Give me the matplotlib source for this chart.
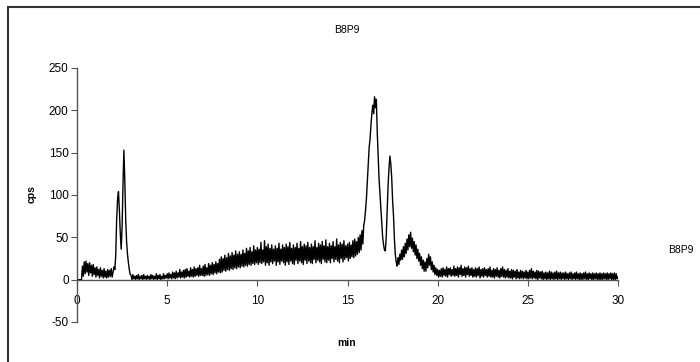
import numpy as np
import matplotlib
matplotlib.use("Agg")
import matplotlib.pyplot as plt
from matplotlib.patches import Rectangle

plt.rcParams['font.family'] = ['Liberation Sans', 'DejaVu Sans']
plt.rcParams['axes.unicode_minus'] = False

title = "B8P9"
series_name = "B8P9"
x_label = "min"
y_label = "cps"
x_ticks = [0, 5, 10, 15, 20, 25, 30]
y_ticks = [-50, 0, 50, 100, 150, 200, 250]

# signal, one row per minute (0.05 min steps)
cps_rows = [
    [0, 0, 0, 0, 0, 0, 16, 4, 21, 7, 22, 9, 19, 5, 20, 8, 17, 4, 18, 6],
    [14, 3, 15, 5, 12, 2, 14, 4, 11, 2, 13, 3, 10, 2, 12, 3, 11, 4, 13, 3],
    [9, 15, 12, 30, 72, 95, 104, 82, 55, 36, 62, 112, 153, 118, 72, 45, 30, 20, 12, 6],
    [5, 0, 6, 1, 4, 0, 5, 1, 6, 0, 4, 1, 5, 0, 6, 1, 4, 0, 5, 1],
    [4, 0, 6, 1, 5, 0, 4, 1, 7, 0, 5, 1, 6, 0, 4, 1, 7, 1, 5, 2],
    [7, 1, 8, 2, 6, 1, 9, 2, 8, 1, 10, 2, 8, 3, 12, 2, 9, 3, 11, 2],
    [12, 3, 13, 4, 10, 3, 14, 4, 12, 3, 15, 4, 13, 5, 14, 4, 17, 5, 13, 5],
    [16, 4, 18, 5, 14, 6, 19, 5, 17, 7, 20, 6, 18, 8, 21, 7, 19, 9, 24, 8],
    [27, 9, 25, 11, 29, 10, 26, 12, 31, 11, 28, 13, 32, 12, 29, 14, 34, 13, 30, 15],
    [33, 14, 30, 16, 35, 15, 31, 17, 37, 16, 34, 18, 38, 17, 33, 19, 40, 18, 35, 20],
    [38, 18, 36, 20, 44, 19, 35, 21, 46, 17, 39, 20, 42, 17, 37, 21, 41, 19, 36, 22],
    [40, 17, 37, 21, 43, 18, 36, 22, 41, 20, 38, 17, 42, 21, 39, 18, 44, 22, 37, 19],
    [41, 18, 38, 23, 43, 19, 37, 22, 45, 20, 39, 18, 42, 23, 40, 19, 44, 22, 38, 20],
    [42, 19, 39, 24, 46, 20, 38, 23, 43, 21, 41, 19, 45, 24, 40, 21, 47, 20, 39, 23],
    [43, 20, 40, 25, 45, 21, 39, 24, 48, 22, 41, 20, 44, 25, 42, 21, 46, 24, 40, 26],
    [42, 22, 44, 25, 41, 27, 46, 26, 48, 28, 45, 30, 50, 32, 53, 35, 58, 42, 64, 70],
    [82, 96, 117, 136, 156, 166, 182, 196, 206, 196, 216, 203, 213, 174, 146, 119, 101, 84, 67, 50],
    [41, 35, 34, 52, 81, 111, 131, 146, 137, 121, 94, 76, 49, 30, 21, 16, 26, 18, 30, 23],
    [35, 24, 39, 27, 43, 31, 48, 35, 53, 39, 56, 37, 49, 33, 45, 29, 41, 25, 36, 22],
    [31, 17, 27, 13, 23, 10, 21, 10, 25, 14, 30, 17, 27, 12, 21, 9, 17, 6, 14, 5],
    [12, 3, 11, 4, 13, 3, 14, 5, 12, 4, 15, 3, 13, 6, 14, 4, 12, 5, 16, 4],
    [13, 5, 15, 3, 14, 6, 17, 4, 13, 5, 15, 3, 14, 6, 16, 4, 13, 5, 14, 3],
    [12, 4, 14, 3, 13, 5, 15, 2, 12, 4, 13, 3, 14, 5, 12, 3, 13, 4, 15, 3],
    [11, 3, 13, 2, 12, 4, 14, 3, 11, 2, 13, 4, 15, 3, 12, 2, 11, 3, 13, 2],
    [10, 2, 12, 1, 11, 3, 10, 1, 12, 2, 9, 1, 11, 2, 10, 1, 9, 2, 11, 1],
    [9, 1, 11, 2, 13, 1, 10, 2, 9, 1, 11, 0, 10, 2, 9, 1, 10, 0, 8, 1],
    [9, 0, 8, 1, 10, 0, 9, 1, 8, 0, 9, 1, 10, 0, 8, 1, 9, 0, 8, 1],
    [8, 0, 9, 1, 7, 0, 8, 1, 9, 0, 7, 1, 8, 0, 9, 1, 7, 0, 8, 0],
    [7, 0, 8, 1, 9, 0, 7, 0, 8, 1, 7, 0, 8, 0, 7, 1, 8, 0, 7, 0],
    [8, 0, 7, 0, 8, 1, 7, 0, 8, 0, 7, 1, 8, 0, 7, 0, 8, 0, 7, 1],
    [3],
]
cps = np.array([v for row in cps_rows for v in row], dtype=float)
time_min = np.round(np.arange(len(cps)) * 0.05, 2)

fig = plt.figure(figsize=(7.0, 3.62), dpi=100)
ax = fig.add_axes([77 / 700, 1 - 322 / 362, (618 - 77) / 700, (322 - 68) / 362])

ax.plot(time_min, cps, color='black', lw=1.0)

ax.set_xlim(0, 30)
ax.set_ylim(-50, 250)
ax.set_xticks(x_ticks)
ax.set_yticks(y_ticks)
ax.spines['top'].set_visible(False)
ax.spines['right'].set_visible(False)
ax.spines['bottom'].set_position(('data', 0))
for s in ('left', 'bottom'):
    ax.spines[s].set_color('#555555')
    ax.spines[s].set_linewidth(1.0)
ax.tick_params(axis='y', direction='out', length=4, width=0.8, color='#555555',
               labelsize=8.5, pad=2)
ax.tick_params(axis='x', direction='out', length=4, width=0.8, color='#555555',
               labelsize=8.5, pad=7)

fig.text(347 / 700, 1 - 30 / 362, title, ha='center', va='center', fontsize=7.5)
fig.text(347 / 700, 1 - 343 / 362, x_label, ha='center', va='center',
         fontsize=7.5, fontweight='bold')
fig.text(32 / 700, 1 - 194 / 362, y_label, ha='center', va='center',
         fontsize=7.5, fontweight='bold', rotation=90)
fig.text(668 / 700, 1 - 250 / 362, series_name, ha='left', va='center', fontsize=7.5)

frame = Rectangle((8 / 700, -0.1), 1.2, 1 - 7 / 362 + 0.1, transform=fig.transFigure,
                  fill=False, edgecolor='#333333', lw=1.5, clip_on=False)
fig.add_artist(frame)

fig.savefig("out.png", dpi=100)
